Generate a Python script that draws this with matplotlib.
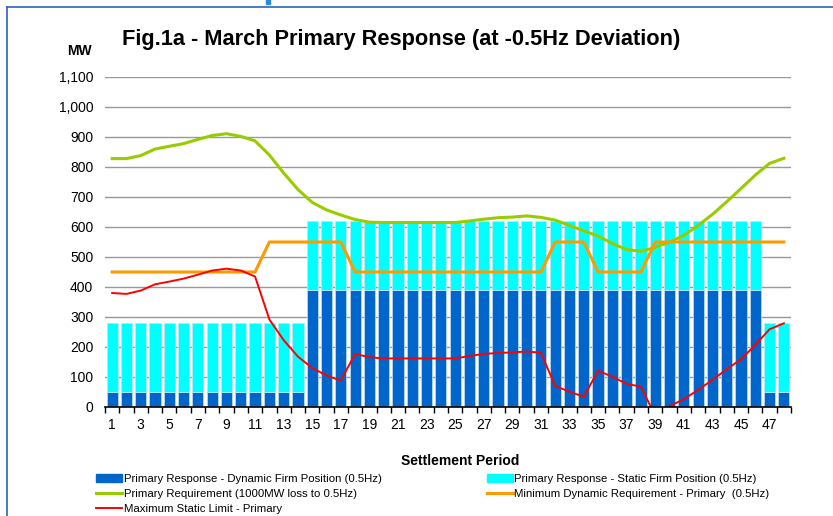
import matplotlib
matplotlib.use("Agg")
import matplotlib.pyplot as plt
from matplotlib.lines import Line2D
from matplotlib.patches import Rectangle
import numpy as np

plt.rcParams['font.family'] = ['Liberation Sans', 'DejaVu Sans']

periods = list(range(1, 49))
dynamic = [50] * 14 + [390] * 32 + [50] * 2
static = [230] * 14 + [230] * 32 + [230] * 2
requirement = [828, 828, 838, 860, 869, 878, 892, 905, 911, 902, 887, 840,
               780, 725, 682, 657, 640, 625, 616, 615, 615, 615, 615, 615,
               615, 620, 626, 631, 633, 637, 632, 623, 605, 587, 570, 545,
               525, 519, 532, 550, 572, 605, 642, 684, 728, 773, 812, 829]
min_dynamic = [450] * 11 + [550] * 6 + [450] * 14 + [550] * 3 + [450] * 4 + [550] * 10
max_static = [380, 377, 388, 409, 418, 428, 441, 455, 461, 455, 435, 292,
              223, 168, 130, 105, 88, 177, 166, 162, 162, 162, 162, 162,
              162, 170, 177, 180, 182, 185, 181, 70, 51, 34, 121, 101,
              77, 68, -30, 3, 26, 57, 90, 126, 159, 207, 259, 279]
ytick_labels = ['0', '100', '200', '300', '400', '500', '600', '700', '800',
                '900', '1,000', '1,100']

fig = plt.figure(figsize=(8.33, 5.16), dpi=100)
ax = fig.add_axes([105 / 833, 1 - 407 / 516, 686 / 833, 330 / 516])

c_dyn = '#0066CC'
c_sta = '#00FFFF'
ax.bar(periods, dynamic, width=0.78, color=c_dyn, edgecolor='#B8D8F0',
       linewidth=0.6, zorder=2)
ax.bar(periods, static, bottom=dynamic, width=0.78, color=c_sta,
       edgecolor='#B8E8F0', linewidth=0.6, zorder=2)
ax.plot(periods, requirement, color='#99CC00', lw=2.2, zorder=3)
ax.plot(periods, min_dynamic, color='#FF9900', lw=2.2, zorder=3)
ax.plot(periods, max_static, color='#FF0000', lw=1.4, zorder=4)

ax.set_xlim(0.5, 48.5)
ax.set_ylim(0, 1100)
ax.set_yticks(range(0, 1101, 100))
ax.set_yticklabels(ytick_labels, fontsize=10)
ax.yaxis.grid(True, color='#999999', lw=1.0)
ax.set_axisbelow(True)
ax.tick_params(axis='y', length=0, pad=8.5)

ax.set_xticks(periods[::2])
ax.set_xticklabels([str(p) for p in periods[::2]], fontsize=10)
ax.set_xticks(np.arange(0.5, 49, 1), minor=True)
ax.tick_params(axis='x', which='major', length=0, pad=8)
ax.tick_params(axis='x', which='minor', length=4, width=1, color='black', direction='out')

for s in ['left', 'right', 'top']:
    ax.spines[s].set_visible(False)
ax.spines['bottom'].set_color('black')
ax.spines['bottom'].set_linewidth(1.2)
ax.spines['bottom'].set_zorder(5)

fig.text(401 / 833, 1 - 39 / 516, 'Fig.1a - March Primary Response (at -0.5Hz Deviation)',
         ha='center', va='center', fontsize=15.7, fontweight='bold')
fig.text(79 / 833, 1 - 51 / 516, 'MW', ha='center', va='center', fontsize=10,
         fontweight='bold')
fig.text(460 / 833, 1 - 461 / 516, 'Settlement Period', ha='center', va='center',
         fontsize=10, fontweight='bold')

handles = [
    Rectangle((0, 0), 1, 1, color=c_dyn),
    Line2D([], [], color='#99CC00', lw=2.2),
    Line2D([], [], color='#FF0000', lw=1.4),
    Rectangle((0, 0), 1, 1, color=c_sta),
    Line2D([], [], color='#FF9900', lw=2.2),
]
labels = [
    'Primary Response - Dynamic Firm Position (0.5Hz)',
    'Primary Requirement (1000MW loss to 0.5Hz)',
    'Maximum Static Limit - Primary',
    'Primary Response - Static Firm Position (0.5Hz)',
    'Minimum Dynamic Requirement - Primary  (0.5Hz)',
]
fig.legend(handles, labels, ncol=2, loc='upper left',
           bbox_to_anchor=(96 / 833, 1 - 474 / 516), frameon=False,
           fontsize=8.2, handlelength=2.3, handleheight=0.6, handletextpad=0.15,
           columnspacing=9.2, labelspacing=0.42, borderpad=0, borderaxespad=0)

frame_color = '#2A62C0'
fig.add_artist(Line2D([7 / 833, 7 / 833], [0, 1 - 7 / 516], color=frame_color,
                      lw=1.2, transform=fig.transFigure))
fig.add_artist(Line2D([7 / 833, 1], [1 - 7 / 516, 1 - 7 / 516], color=frame_color,
                      lw=1.2, transform=fig.transFigure))
fig.add_artist(Rectangle((266 / 833, 1 - 4 / 516), 4 / 833, 4 / 516,
                         color='#2A8AE0', transform=fig.transFigure))

fig.savefig('out.png', dpi=100)
